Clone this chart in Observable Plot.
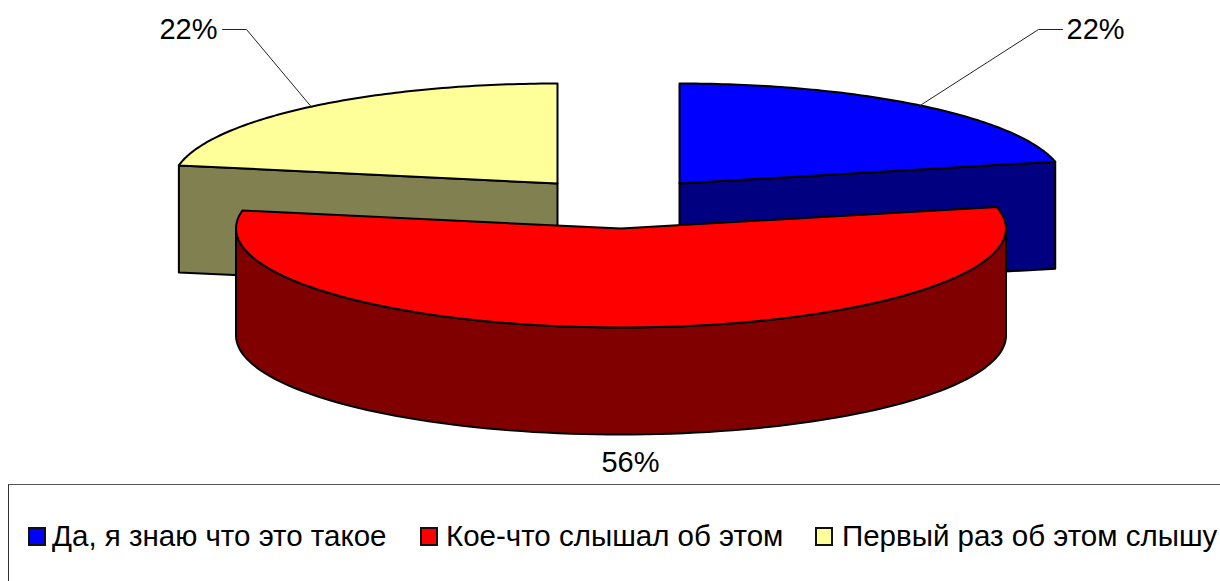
<!DOCTYPE html>
<html lang="ru">
<head>
<meta charset="utf-8">
<script src="https://cdn.jsdelivr.net/npm/d3@7"></script>
<script src="https://cdn.jsdelivr.net/npm/@observablehq/plot@0.6"></script>
<style>
html,body{margin:0;padding:0;background:#fff;overflow:hidden}
body{width:1220px;height:581px;font-family:"Liberation Sans",Arial,sans-serif}
#chart svg{display:block}
#legend{position:absolute;left:8px;top:484px;width:1212px;height:97px;box-sizing:border-box;border-top:1px solid #555;border-left:1px solid #333;background:#fff}
.sw{position:absolute;top:42px;width:14px;height:15px;border:2px solid #111}
.tx{position:absolute;top:33px;font-size:29.5px;line-height:36px;white-space:nowrap;color:#000}
</style>
</head>
<body>
<div id="chart"></div>
<div id="legend"></div>
<script>
const categories = ["Да, я знаю что это такое", "Кое-что слышал об этом", "Первый раз об этом слышу"];
const shares = [21.5, 56.4, 22.1];
const topColors = ["#0000ff", "#ff0000", "#ffff99"];
const sideColors = ["#000080", "#800000", "#808050"];
const apexX = [679, 620.5, 557];
const apexY = [183, 228, 183];
const radiusY = [100, 99, 100];
const legendSwatchX = [19, 411, 806];
const legendTextX = [43, 437, 833];
const radiusX = 385, depth = 107;

const total = d3.sum(shares);
const stops = d3.cumsum([0, ...shares]).map(v => v / total * 2 * Math.PI);
const pt = (i, a, dz = 0) => ({x: apexX[i] + radiusX * Math.sin(a), y: apexY[i] - radiusY[i] * Math.cos(a) + dz});
const arc = (i, a0, a1, dz = 0, n = 96) => d3.range(n + 1).map(k => pt(i, a0 + (a1 - a0) * k / n, dz));
const apex = (i, dz = 0) => ({x: apexX[i], y: apexY[i] + dz});
const poly = (pts, fill) => Plot.line(pts, {x: "x", y: "y", fill, stroke: "#000", strokeWidth: 2, curve: "linear-closed", strokeLinejoin: "round"});

const marks = [];
// back slices: yellow (index 2), blue (index 0): cut face then top
[2, 0].forEach(i => {
  const outer = i === 0 ? stops[1] : stops[2];
  marks.push(poly([apex(i), pt(i, outer), pt(i, outer, depth), apex(i, depth)], sideColors[i]));
  marks.push(poly([apex(i), ...arc(i, stops[i], stops[i + 1])], topColors[i]));
});
// front slice: wall then top
const wall = arc(1, Math.PI / 2, 3 * Math.PI / 2);
const wallLow = arc(1, Math.PI / 2, 3 * Math.PI / 2, depth).reverse();
marks.push(poly([...wall, ...wallLow], sideColors[1]));
marks.push(poly([apex(1), ...arc(1, stops[1], stops[2])], topColors[1]));

// leader lines and labels
const fmt = v => Math.round(v) + "%";
const mid = i => (stops[i] + stops[i + 1]) / 2;
const leaderElbow = [{x: 1038, y: 29}, null, {x: 246, y: 29}];
const leaderEnd = [{x: 1062, y: 29}, null, {x: 222, y: 29}];
[0, 2].forEach(i => marks.push(Plot.line([pt(i, mid(i)), leaderElbow[i], leaderEnd[i]], {x: "x", y: "y", stroke: "#222", strokeWidth: 1})));
const labels = [
  {x: 1066, y: 29, t: fmt(shares[0]), a: "start"},
  {x: 630, y: 462, t: fmt(shares[1]), a: "middle"},
  {x: 217, y: 29, t: fmt(shares[2]), a: "end"}
];
labels.forEach(d => marks.push(Plot.text([d], {x: "x", y: "y", text: "t", textAnchor: d.a, lineAnchor: "middle", fontSize: 29, fontFamily: "Liberation Sans", fill: "#000"})));

const W = 1220, H = 484;
const plot = Plot.plot({
  width: W, height: H, margin: 0,
  x: {domain: [0, W], range: [0, W], axis: null},
  y: {domain: [0, H], range: [0, H], axis: null},
  style: {background: "#fff", fontFamily: "Liberation Sans"},
  marks
});
document.getElementById("chart").append(plot);

const legend = document.getElementById("legend");
categories.forEach((c, i) => {
  const s = document.createElement("span");
  s.className = "sw"; s.style.left = legendSwatchX[i] + "px"; s.style.background = topColors[i];
  const t = document.createElement("span");
  t.className = "tx"; t.style.left = legendTextX[i] + "px"; t.textContent = c;
  legend.append(s, t);
});
</script>
</body>
</html>
